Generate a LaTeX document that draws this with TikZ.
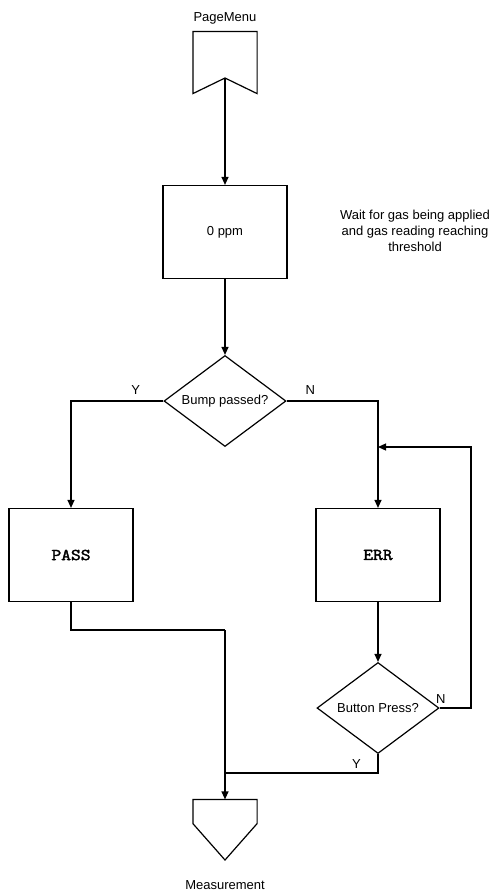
\documentclass[tikz,border=0pt]{standalone}
\usepackage{fontspec}
\setmainfont{Liberation Sans}
\newfontfamily\codefont{Latin Modern Mono}[FakeBold=2.5, FakeStretch=1.15]
\usepackage{tikz}
\usetikzlibrary{shapes, arrows.meta}

\begin{document}
\begin{tikzpicture}[x=1pt, y=-1pt, line width=1.2pt, every node/.style={font=\fontsize{13}{16}\selectfont, inner sep=0pt}, box/.style={rectangle, draw, minimum width=124, minimum height=93}, decision/.style={diamond, draw, aspect=1.35, minimum width=122, minimum height=91}, pagelink/.style={rectangle, minimum width=63}, code/.style={font=\codefont\fontsize{16.5}{18}\selectfont}, arr/.style={-{Triangle[length=8pt, width=7pt]}}]
  \useasboundingbox (0,0) rectangle (498,895);
  \node (menulabel) at (225,18) {PageMenu};
  \node[pagelink, minimum height=61] (menu) at (225,62.5) {};
  \coordinate (notch) at (225,78);
  \draw (menu.south west) -- (menu.north west) -- (menu.north east) -- (menu.south east) -- (notch) -- cycle;
  \node[box] (ppm) at (225,232) {0 ppm};
  \node[align=center] (note) at (415,231) {Wait for gas being applied\\and gas reading reaching\\threshold};
  \node[decision] (bump) at (225,401) {Bump passed?};
  \node[box, code] (pass) at (71,555) {PASS};
  \node[box, code] (err) at (378,555) {ERR};
  \node[decision] (btn) at (378,708) {Button Press?};
  \node[pagelink, minimum height=23] (meas) at (225,811.5) {};
  \coordinate (tip) at (225,860);
  \draw (meas.north west) -- (meas.north east) -- (meas.south east) -- (tip) -- (meas.south west) -- cycle;
  \node (measlabel) at (225,885) {Measurement};
  \coordinate (loop) at (378,447);
  \coordinate (back) at (471,447);
  \coordinate (merge) at (225,630);
  \coordinate (join) at (225,773);
  \draw[arr] (notch) -- (ppm.north);
  \draw[arr] (ppm.south) -- (bump.north);
  \draw[arr] (bump.west) -| node[pos=0.15, above=6pt] (y1) {Y} (pass.north);
  \draw[arr] (bump.east) -| node[pos=0.13, above=6pt] (n1) {N} (err.north);
  \draw[arr] (err.south) -- (btn.north);
  \draw[arr] (btn.east) -| node[pos=0.02, above=4pt] (n2) {N} (back) -- (loop);
  \draw (pass.south) |- (merge);
  \draw[arr] (merge) -- (meas.north);
  \draw (btn.south) |- node[pos=0.57, above=4pt] (y2) {Y} (join);
\end{tikzpicture}
\end{document}
